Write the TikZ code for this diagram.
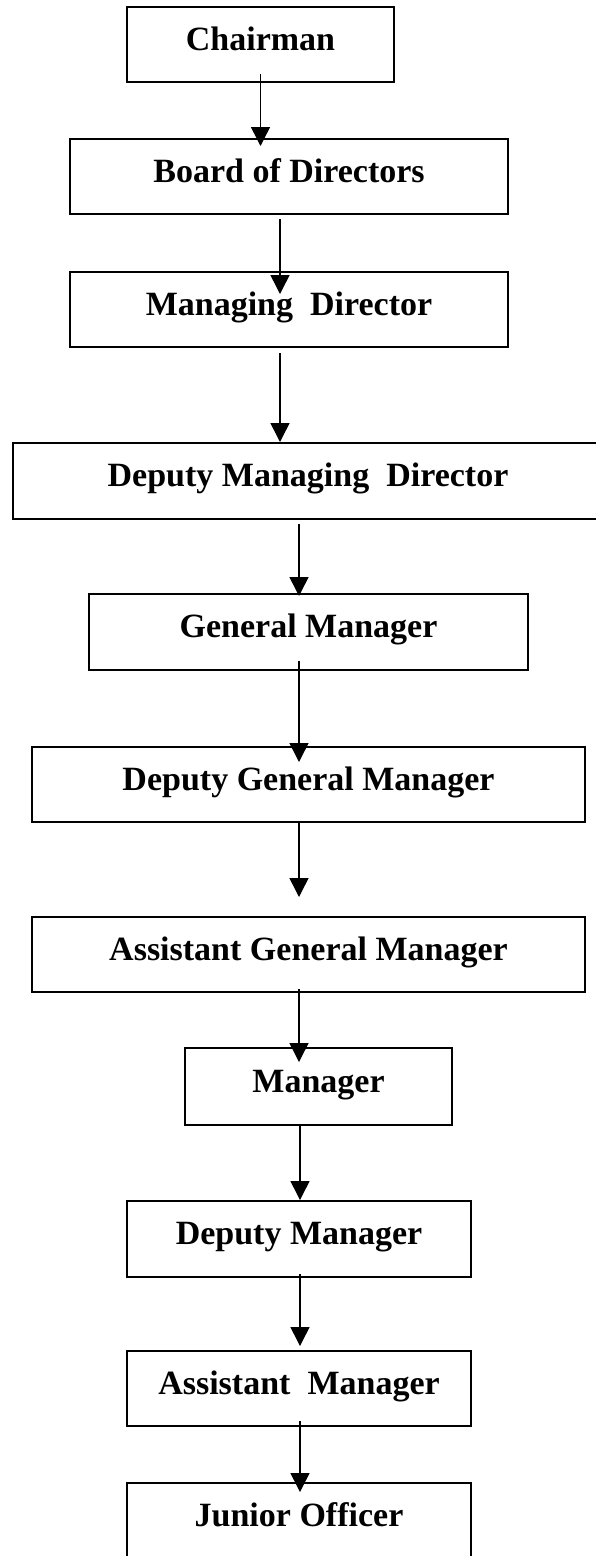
\documentclass[tikz,border=0pt]{standalone}
\usepackage{fontspec}
\setmainfont{Liberation Serif}
\usepackage{tikz}
\usetikzlibrary{arrows.meta}

\tikzset{
  post/.style={draw, line width=2pt, inner sep=0pt,
    font=\fontsize{34}{40}\selectfont\bfseries,
    text height=24pt, text depth=13pt},
  arr/.style={line width=1.5pt, -{Triangle[width=19pt,length=19pt]}}
}

\begin{document}
\begin{tikzpicture}[x=1pt,y=-1pt]

  \useasboundingbox (0,0) rectangle (596,1556);

  % Boxes, top to bottom
  \node[post, minimum width=267pt, minimum height=75pt] (chair) at (260.5,44.5) {Chairman};
  \node[post, minimum width=438pt, minimum height=75pt] (board) at (289,176.5) {Board of Directors};
  \node[post, minimum width=438pt, minimum height=75pt] (md) at (289,309.5) {Managing~ Director};
  \node[post, minimum width=590pt, minimum height=76pt] (dmd) at (308,481) {Deputy Managing~ Director};
  \node[post, minimum width=439pt, minimum height=76pt] (gm) at (308.5,632) {General Manager};
  \node[post, minimum width=553pt, minimum height=75pt] (dgm) at (308.5,784.5) {Deputy General Manager};
  \node[post, minimum width=553pt, minimum height=75pt] (agm) at (308.5,954.5) {Assistant General Manager};
  \node[post, minimum width=267pt, minimum height=77pt] (man) at (318.5,1086.5) {Manager};
  \node[post, minimum width=344pt, minimum height=76pt] (dm) at (299,1239) {Deputy Manager};
  \node[post, minimum width=344pt, minimum height=75pt] (am) at (299,1388.5) {Assistant~ Manager};
  \node[post, minimum width=344pt, minimum height=76pt] (jo) at (299,1521) {Junior Officer};

  % Arrows between the boxes
  \draw[arr, shorten <=-9pt, shorten >=-8pt] (chair.south) -- (chair.south |- board.north);
  \draw[arr, shorten <=4pt, shorten >=-23pt] ([xshift=-9pt]board.south) -- ([xshift=-9pt]board.south |- md.north);
  \draw[arr, shorten <=5pt] ([xshift=-9pt]md.south) -- ([xshift=-9pt]md.south |- dmd.north);
  \draw[arr, shorten <=4pt, shorten >=-3pt] ([xshift=-9pt]dmd.south) -- ([xshift=-9pt]dmd.south |- gm.north);
  \draw[arr, shorten <=-10pt, shorten >=-16pt] ([xshift=-9.5pt]gm.south) -- ([xshift=-9.5pt]gm.south |- dgm.north);
  \draw[arr, shorten >=19pt] ([xshift=-9.5pt]dgm.south) -- ([xshift=-9.5pt]dgm.south |- agm.north);
  \draw[arr, shorten <=-4pt, shorten >=-15pt] ([xshift=-9.5pt]agm.south) -- ([xshift=-9.5pt]agm.south |- man.north);
  \draw[arr] ([xshift=-18.5pt]man.south) -- ([xshift=-18.5pt]man.south |- dm.north);
  \draw[arr, shorten <=-4pt, shorten >=4pt] ([xshift=1pt]dm.south) -- ([xshift=1pt]dm.south |- am.north);
  \draw[arr, shorten <=-6pt, shorten >=-10pt] ([xshift=1pt]am.south) -- ([xshift=1pt]am.south |- jo.north);

\end{tikzpicture}
\end{document}
